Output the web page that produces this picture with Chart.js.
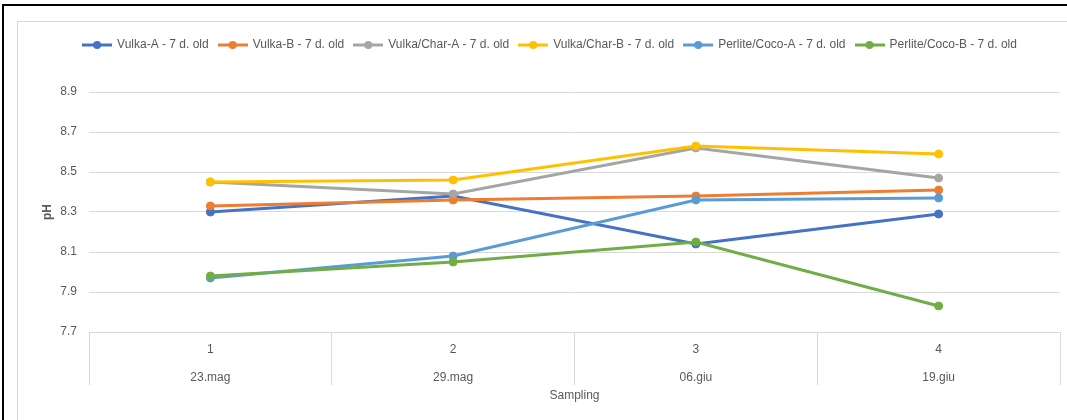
<!DOCTYPE html>
<html>
<head>
<meta charset="utf-8">
<script src="https://cdn.jsdelivr.net/npm/chart.js@4"></script>
<style>
  html, body { margin: 0; padding: 0; background: #fff; width: 1067px; height: 420px; overflow: hidden; }
  #outer { position: absolute; left: 2px; top: 4px; width: 1065px; height: 416px;
           border-top: 2px solid #000; border-left: 2px solid #000; box-sizing: border-box; }
  #frame { position: absolute; left: 17px; top: 21px; width: 1050px; height: 399px;
           border-top: 1px solid #d9d9d9; border-left: 1px solid #d9d9d9; box-sizing: border-box; }
  #wrap { position: absolute; left: 18px; top: 22px; width: 1049px; height: 398px; }
</style>
</head>
<body>
<div id="outer"></div>
<div id="frame"></div>
<div id="wrap"><canvas id="c" width="1049" height="398"></canvas></div>
<script>
// Sampling rounds and their dates
const samplingRounds = ['1', '2', '3', '4'];
const samplingDates = ['23.mag', '29.mag', '06.giu', '19.giu'];

// pH per substrate (7-day-old plants)
const vulkaA = [8.30, 8.38, 8.14, 8.29];
const vulkaB = [8.33, 8.36, 8.38, 8.41];
const vulkaCharA = [8.45, 8.39, 8.62, 8.47];
const vulkaCharB = [8.45, 8.46, 8.63, 8.59];
const perliteCocoA = [7.97, 8.08, 8.36, 8.37];
const perliteCocoB = [7.98, 8.05, 8.15, 7.83];

// y-axis ticks
const yTicks = [7.7, 7.9, 8.1, 8.3, 8.5, 8.7, 8.9];

const seriesNames = [
  'Vulka-A - 7 d. old', 'Vulka-B - 7 d. old', 'Vulka/Char-A - 7 d. old',
  'Vulka/Char-B - 7 d. old', 'Perlite/Coco-A - 7 d. old', 'Perlite/Coco-B - 7 d. old'
];
const seriesValues = [vulkaA, vulkaB, vulkaCharA, vulkaCharB, perliteCocoA, perliteCocoB];
const seriesColors = ['#4472C4', '#ED7D31', '#A5A5A5', '#FFC000', '#5B9BD5', '#70AD47'];

const FONT = 'Liberation Sans, Arial, sans-serif';
const TEXT = '#595959';
const GRID = '#d9d9d9';

// small line-with-dot swatch for the legend
function swatch(color) {
  const cv = document.createElement('canvas');
  cv.width = 30; cv.height = 10;
  const g = cv.getContext('2d');
  g.strokeStyle = color; g.lineWidth = 3;
  g.beginPath(); g.moveTo(0, 5); g.lineTo(30, 5); g.stroke();
  g.fillStyle = color;
  g.beginPath(); g.arc(15, 5, 4, 0, Math.PI * 2); g.fill();
  return cv;
}
const swatches = seriesColors.map(swatch);

const datasets = seriesNames.map((name, i) => ({
  label: name,
  data: seriesValues[i],
  borderColor: seriesColors[i],
  backgroundColor: seriesColors[i],
  pointBackgroundColor: seriesColors[i],
  pointBorderColor: seriesColors[i],
  borderWidth: 3,
  pointRadius: 4,
  pointBorderWidth: 1,
  pointHoverRadius: 4,
  tension: 0,
  order: seriesNames.length - i   // later series drawn on top
}));

// extra room between legend and plot, and legend row shift
const legendLayout = {
  id: 'legendLayout',
  beforeInit(chart) {
    const legend = chart.legend;
    const fit = legend.fit;
    legend.fit = function () {
      fit.call(this);
      this.height = 63;
      if (this.lineWidths && this.lineWidths.length) this.lineWidths[0] -= 22;
    };
  }
};

new Chart(document.getElementById('c'), {
  type: 'line',
  data: {
    labels: samplingRounds.map((r, i) => [r, samplingDates[i]]),
    datasets
  },
  plugins: [legendLayout],
  options: {
    responsive: false,
    animation: false,
    events: [],
    layout: { padding: { left: 0, right: 7, top: 7, bottom: 0 } },
    plugins: {
      tooltip: { enabled: false },
      legend: {
        position: 'top',
        labels: {
          font: { family: FONT, size: 12 },
          color: TEXT,
          padding: 10,
          usePointStyle: true,
          pointStyleWidth: 28,
          sort: (a, b) => a.datasetIndex - b.datasetIndex,
          generateLabels(chart) {
            const items = Chart.defaults.plugins.legend.labels.generateLabels(chart);
            items.forEach(it => { it.pointStyle = swatches[it.datasetIndex]; });
            return items;
          }
        }
      }
    },
    scales: {
      x: {
        offset: true,
        grid: {
          display: true, offset: true, drawOnChartArea: false,
          drawTicks: true, tickLength: 53, color: GRID, lineWidth: 1
        },
        border: { display: true, color: GRID, width: 1 },
        ticks: {
          color: TEXT, font: { family: FONT, size: 12, lineHeight: '28px' },
          padding: -49, maxRotation: 0, autoSkip: false
        },
        title: {
          display: true, text: 'Sampling', color: TEXT,
          font: { family: FONT, size: 12 }, padding: { top: 0, bottom: 17 }
        },
        afterFit(scale) { scale.height = 88; }
      },
      y: {
        min: 7.7, max: 8.9,
        afterBuildTicks(scale) { scale.ticks = yTicks.map(v => ({ value: v })); },
        grid: { color: GRID, lineWidth: 1, drawTicks: false },
        border: { display: false },
        ticks: {
          color: TEXT, font: { family: FONT, size: 12 }, padding: 12,
          callback: v => Number(v).toFixed(1)
        },
        title: {
          display: true, text: 'pH', color: TEXT,
          font: { family: FONT, size: 12, weight: 'bold' }, padding: { top: 22, bottom: 0 }
        },
        afterFit(scale) { scale.width = 71; }
      }
    }
  }
});
</script>
</body>
</html>
